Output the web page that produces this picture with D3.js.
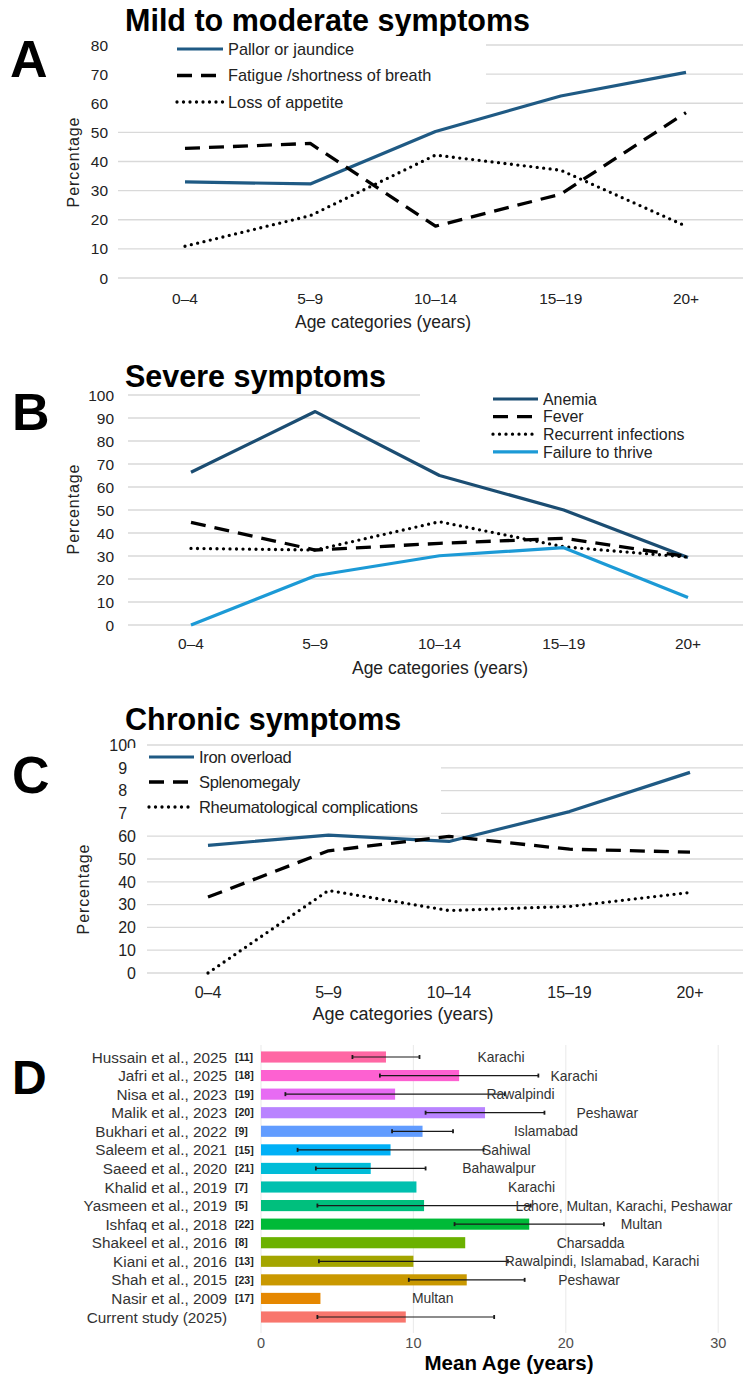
<!DOCTYPE html>
<html>
<head>
<meta charset="utf-8">
<script src="https://cdn.jsdelivr.net/npm/d3@7"></script>
<style>
  html, body { margin: 0; padding: 0; background: #fff; }
  svg { display: block; }
</style>
</head>
<body>
<svg id="chart" width="743" height="1376"></svg>
<script>
// ---------------- DATA ----------------
const ageCategories = ["0–4", "5–9", "10–14", "15–19", "20+"];

// Panel A – mild to moderate symptoms (%)
const mildPallor   = [33.0, 32.3, 50.3, 62.5, 70.6];
const mildFatigue  = [44.5, 46.2, 17.8, 28.8, 56.8];
const mildAppetite = [10.9, 21.4, 42.2, 37.0, 17.8];
const mildTicks = [0, 10, 20, 30, 40, 50, 60, 70, 80];

// Panel B – severe symptoms (%)
const sevAnemia     = [66.4, 92.8, 65.0, 50.0, 29.3];
const sevFever      = [44.6, 32.6, 35.5, 37.7, 29.7];
const sevInfections = [33.3, 32.6, 44.9, 34.0, 29.5];
const sevFailure    = [0.0, 21.4, 30.1, 33.6, 12.0];
const sevTicks = [0, 10, 20, 30, 40, 50, 60, 70, 80, 90, 100];

// Panel C – chronic symptoms (%)
const chrIron   = [56.0, 60.5, 57.7, 70.8, 88.0];
const chrSpleno = [33.3, 53.6, 59.9, 54.3, 53.0];
const chrRheum  = [0.0, 36.2, 27.4, 29.2, 35.3];
const chrTicks = [0, 10, 20, 30, 40, 50, 60, 70, 80, 90, 100];

// Panel D – mean age of study populations
const studies = ["Hussain et al., 2025", "Jafri et al., 2025", "Nisa et al., 2023", "Malik et al., 2023",
  "Bukhari et al., 2022", "Saleem et al., 2021", "Saeed et al., 2020", "Khalid et al., 2019",
  "Yasmeen et al., 2019", "Ishfaq et al., 2018", "Shakeel et al., 2016", "Kiani et al., 2016",
  "Shah et al., 2015", "Nasir et al., 2009", "Current study (2025)"];
const studyRefs = ["[11]", "[18]", "[19]", "[20]", "[9]", "[15]", "[21]", "[7]", "[5]", "[22]", "[8]", "[13]", "[23]", "[17]", ""];
const meanAge = [8.2, 13.0, 8.8, 14.7, 10.6, 8.5, 7.2, 10.2, 10.7, 17.6, 13.4, 10.0, 13.5, 3.9, 9.5];
const sdAge   = [2.2, 5.2, 7.2, 3.9, 2.0, 6.1, 3.6, null, 7.0, 4.9, null, 6.2, 3.8, null, 5.8];
const studyCities = ["Karachi", "Karachi", "Rawalpindi", "Peshawar", "Islamabad", "Sahiwal", "Bahawalpur",
  "Karachi", "Lahore, Multan, Karachi, Peshawar", "Multan", "Charsadda", "Rawalpindi, Islamabad, Karachi",
  "Peshawar", "Multan", ""];
const studyColors = ["#FF67A4", "#FD61D1", "#E76BF3", "#B983FF", "#619CFF", "#00B0F6", "#00BCD8", "#00C0AF",
  "#00BF7D", "#00BA38", "#6BB100", "#A3A500", "#C99800", "#E58700", "#F8766D"];
const meanAgeTicks = [0, 10, 20, 30];

// ---------------- HELPERS ----------------
function hasFont(name) {
  const c = document.createElement("canvas").getContext("2d");
  const s = "abcdefghijklmnopqrstuvwxyzABCDEFGHIJ0123456789";
  c.font = "40px monospace";
  const w1 = c.measureText(s).width;
  c.font = `40px '${name}', monospace`;
  return Math.abs(c.measureText(s).width - w1) > 0.5;
}
const NARROW_OK = hasFont("Liberation Sans Narrow");
const SANS = "'Liberation Sans', Arial, Helvetica, sans-serif";
function narrow(sel, size) {
  if (NARROW_OK) sel.attr("font-family", "'Liberation Sans Narrow', " + SANS).attr("font-size", size);
  else sel.attr("font-family", SANS).attr("font-size", size * 0.86);
  return sel;
}

const svg = d3.select("#chart");
svg.append("rect").attr("width", 743).attr("height", 1376).attr("fill", "#fff");

const NAVY = "#1F5A84";
const NAVY_DARK = "#1B4D72";
const SKY = "#1C9AD6";
const styles = {
  solid:  { dash: null, cap: "butt", width: 3.2 },
  dashed: { dash: "15,9", cap: "butt", width: 3.3 },
  dotted: { dash: "0,6.5", cap: "round", width: 3.3 }
};

function linePanel(cfg) {
  const g = svg.append("g");
  const x = d3.scalePoint().domain(ageCategories).range(cfg.xRange);
  const y = d3.scaleLinear().domain([0, cfg.yMax]).range(cfg.yRange);

  // gridlines
  g.append("g").selectAll("line").data(cfg.ticks).join("line")
    .attr("x1", cfg.gridX[0]).attr("x2", cfg.gridX[1])
    .attr("y1", d => y(d)).attr("y2", d => y(d))
    .attr("stroke", "#D9D9D9").attr("stroke-width", 1.3);

  // y tick labels
  const yt = g.append("g").selectAll("text").data(cfg.ticks).join("text")
    .attr("x", cfg.tickX).attr("y", d => y(d)).attr("dy", "0.36em")
    .attr("text-anchor", "end").attr("fill", "#222").text(d => d);
  if (cfg.tickNarrow) narrow(yt, cfg.tickSize); else yt.attr("font-family", SANS).attr("font-size", cfg.tickSize);

  // x tick labels
  const xt = g.append("g").selectAll("text").data(ageCategories).join("text")
    .attr("x", d => x(d)).attr("y", cfg.xTickY)
    .attr("text-anchor", "middle").attr("fill", "#222").text(d => d);
  if (cfg.tickNarrow) narrow(xt, cfg.tickSize); else xt.attr("font-family", SANS).attr("font-size", cfg.tickSize);

  // axis titles
  g.append("text").attr("x", cfg.xTitle[0]).attr("y", cfg.xTitle[1])
    .attr("text-anchor", "middle").attr("font-family", SANS).attr("font-size", cfg.xTitleSize)
    .attr("fill", "#222").text("Age categories (years)");
  g.append("text")
    .attr("transform", `translate(${cfg.yTitle[0]},${cfg.yTitle[1]}) rotate(-90)`)
    .attr("text-anchor", "middle").attr("font-family", SANS).attr("font-size", 16)
    .attr("letter-spacing", 0.9).attr("fill", "#222").text("Percentage");

  // title and panel letter
  g.append("text").attr("x", cfg.title[0]).attr("y", cfg.title[1])
    .attr("font-family", SANS).attr("font-weight", "bold").attr("font-size", 30.5)
    .attr("fill", "#000").text(cfg.titleText);
  g.append("text").attr("x", cfg.letter[0]).attr("y", cfg.letter[1])
    .attr("font-family", SANS).attr("font-weight", "bold").attr("font-size", cfg.letter[2])
    .attr("fill", "#000").text(cfg.letterText);

  // legend
  const L = cfg.legend;
  g.append("rect").attr("x", L.bg[0]).attr("y", L.bg[1]).attr("width", L.bg[2]).attr("height", L.bg[3]).attr("fill", "#fff");
  cfg.series.forEach((s, i) => {
    const st = styles[s.style];
    const yy = L.y0 + i * L.step;
    g.append("line").attr("x1", L.x0).attr("x2", L.x1).attr("y1", yy).attr("y2", yy)
      .attr("stroke", s.color).attr("stroke-width", st.width)
      .attr("stroke-dasharray", st.dash).attr("stroke-linecap", st.cap);
    const t = g.append("text").attr("x", L.x1 + 5).attr("y", yy).attr("dy", "0.36em")
      .attr("fill", "#222").text(s.name);
    if (L.narrow) narrow(t, L.size); else t.attr("font-family", SANS).attr("font-size", L.size).attr("letter-spacing", L.ls || 0);
  });

  // series lines
  const line = d3.line().x((d, i) => x(ageCategories[i])).y(d => y(d));
  cfg.series.forEach(s => {
    const st = styles[s.style];
    g.append("path").datum(s.values).attr("d", line)
      .attr("fill", "none").attr("stroke", s.color).attr("stroke-width", st.width)
      .attr("stroke-dasharray", st.dash).attr("stroke-linecap", st.cap)
      .attr("stroke-linejoin", "round");
  });
}

// ---------------- PANEL A ----------------
linePanel({
  yMax: 80, ticks: mildTicks, yRange: [278, 45], xRange: [185, 686],
  gridX: [118, 743], tickX: 108, tickSize: 18, tickNarrow: true, xTickY: 304,
  xTitle: [383, 328], xTitleSize: 17.5, yTitle: [79, 162],
  title: [125, 31], titleText: "Mild to moderate symptoms",
  letter: [10, 77, 52], letterText: "A",
  legend: { bg: [116, 36, 370, 76], x0: 177, x1: 223, y0: 49, step: 26.5, size: 19, narrow: true },
  series: [
    { name: "Pallor or jaundice", values: mildPallor, color: NAVY, style: "solid" },
    { name: "Fatigue /shortness of breath", values: mildFatigue, color: "#000", style: "dashed" },
    { name: "Loss of appetite", values: mildAppetite, color: "#000", style: "dotted" }
  ]
});

// ---------------- PANEL B ----------------
linePanel({
  yMax: 100, ticks: sevTicks, yRange: [625, 395], xRange: [191, 688],
  gridX: [128, 743], tickX: 114, tickSize: 18, tickNarrow: true, xTickY: 649,
  xTitle: [440, 674], xTitleSize: 17.5, yTitle: [79, 509],
  title: [125, 387], titleText: "Severe symptoms",
  letter: [12, 430, 52], letterText: "B",
  legend: { bg: [420, 388, 323, 68], x0: 493, x1: 538, y0: 399, step: 17.6, size: 18.5, narrow: true },
  series: [
    { name: "Anemia", values: sevAnemia, color: NAVY_DARK, style: "solid" },
    { name: "Fever", values: sevFever, color: "#000", style: "dashed" },
    { name: "Recurrent infections", values: sevInfections, color: "#000", style: "dotted" },
    { name: "Failure to thrive", values: sevFailure, color: SKY, style: "solid" }
  ]
});

// ---------------- PANEL C ----------------
linePanel({
  yMax: 100, ticks: chrTicks, yRange: [973, 745], xRange: [208, 690],
  gridX: [147, 743], tickX: 136, tickSize: 16, tickNarrow: false, xTickY: 998,
  xTitle: [403, 1020], xTitleSize: 18, yTitle: [89, 889],
  title: [125, 730], titleText: "Chronic symptoms",
  letter: [12, 793, 52], letterText: "C",
  legend: { bg: [127, 748, 314, 78], x0: 149, x1: 194, y0: 757, step: 25, size: 16.5, narrow: false, ls: -0.3 },
  series: [
    { name: "Iron overload", values: chrIron, color: NAVY, style: "solid" },
    { name: "Splenomegaly", values: chrSpleno, color: "#000", style: "dashed" },
    { name: "Rheumatological complications", values: chrRheum, color: "#000", style: "dotted" }
  ]
});

// ---------------- PANEL D ----------------
(function () {
  const g = svg.append("g");
  const x = d3.scaleLinear().domain([0, 30]).range([261, 718.2]);
  const y = d3.scaleBand().domain(studies).range([1044, 1330]).padding(0.4);
  const bh = y.bandwidth();

  // vertical gridlines
  g.append("g").selectAll("line").data(meanAgeTicks).join("line")
    .attr("x1", d => x(d)).attr("x2", d => x(d)).attr("y1", 1045).attr("y2", 1333)
    .attr("stroke", "#EBEBEB").attr("stroke-width", 1.1);

  // bars
  g.append("g").selectAll("rect").data(studies).join("rect")
    .attr("x", x(0)).attr("y", d => y(d))
    .attr("width", (d, i) => x(meanAge[i]) - x(0)).attr("height", bh)
    .attr("fill", (d, i) => studyColors[i]);

  // error bars
  const eb = g.append("g").attr("stroke", "#1a1a1a").attr("stroke-width", 1.2);
  studies.forEach((s, i) => {
    if (sdAge[i] == null) return;
    const yc = y(s) + bh / 2;
    const lo = x(meanAge[i] - sdAge[i]), hi = x(meanAge[i] + sdAge[i]);
    eb.append("line").attr("x1", lo).attr("x2", hi).attr("y1", yc).attr("y2", yc);
    [lo, hi].forEach(xx => eb.append("line").attr("x1", xx).attr("x2", xx)
      .attr("y1", yc - 2).attr("y2", yc + 2).attr("stroke-width", 1.8));
  });

  // city labels (placed to the right of each bar)
  g.append("g").selectAll("text").data(studies).join("text")
    .attr("x", (d, i) => x(meanAge[i] + 6)).attr("y", d => y(d) + bh / 2).attr("dy", "0.36em")
    .attr("font-family", SANS).attr("font-size", 13.9).attr("fill", "#333")
    .text((d, i) => studyCities[i]);

  // study labels + refs
  g.append("g").selectAll("text").data(studies).join("text")
    .attr("x", 227).attr("y", d => y(d) + bh / 2).attr("dy", "0.36em")
    .attr("text-anchor", "end").attr("font-family", SANS).attr("font-size", 15.3).attr("fill", "#333")
    .text(d => d);
  g.append("g").selectAll("text").data(studies).join("text")
    .attr("x", 235).attr("y", d => y(d) + bh / 2).attr("dy", "0.36em")
    .attr("font-family", SANS).attr("font-weight", "bold").attr("font-size", 10.5).attr("fill", "#222")
    .text((d, i) => studyRefs[i]);

  // x axis tick labels
  g.append("g").selectAll("text").data(meanAgeTicks).join("text")
    .attr("x", d => x(d)).attr("y", 1348).attr("text-anchor", "middle")
    .attr("font-family", SANS).attr("font-size", 14.5).attr("fill", "#4D4D4D").text(d => d);

  g.append("text").attr("x", 509).attr("y", 1370).attr("text-anchor", "middle")
    .attr("font-family", SANS).attr("font-weight", "bold").attr("font-size", 20.5).attr("fill", "#000")
    .text("Mean Age (years)");

  g.append("text").attr("x", 12).attr("y", 1094)
    .attr("font-family", SANS).attr("font-weight", "bold").attr("font-size", 48).attr("fill", "#000").text("D");
})();
</script>
</body>
</html>
